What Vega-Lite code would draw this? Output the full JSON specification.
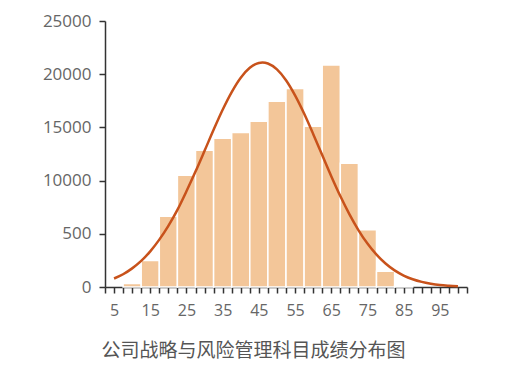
{
  "$schema": "https://vega.github.io/schema/vega-lite/v6.json",
  "width": 362,
  "height": 266,
  "autosize": "none",
  "padding": {"left": 105, "top": 21, "right": 48, "bottom": 96},
  "background": "white",
  "config": {"view": {"stroke": null}},
  "datasets": {
    "bins": [
      {"x": 7.5, "xend": 12.5, "y": 320},
      {"x": 12.5, "xend": 17.5, "y": 2480},
      {"x": 17.5, "xend": 22.5, "y": 6640},
      {"x": 22.5, "xend": 27.5, "y": 10500},
      {"x": 27.5, "xend": 32.5, "y": 12850},
      {"x": 32.5, "xend": 37.5, "y": 13970},
      {"x": 37.5, "xend": 42.5, "y": 14510},
      {"x": 42.5, "xend": 47.5, "y": 15570},
      {"x": 47.5, "xend": 52.5, "y": 17450},
      {"x": 52.5, "xend": 57.5, "y": 18650},
      {"x": 57.5, "xend": 62.5, "y": 15100},
      {"x": 62.5, "xend": 67.5, "y": 20870},
      {"x": 67.5, "xend": 72.5, "y": 11630},
      {"x": 72.5, "xend": 77.5, "y": 5390},
      {"x": 77.5, "xend": 82.5, "y": 1475},
      {"x": 82.5, "xend": 87.5, "y": 150}
    ],
    "curve": [
      {"x": 5, "y": 800}, {"x": 7.5, "y": 1200}, {"x": 10, "y": 1750},
      {"x": 12.5, "y": 2450}, {"x": 15, "y": 3350}, {"x": 17.5, "y": 4450},
      {"x": 20, "y": 5750}, {"x": 22.5, "y": 7250}, {"x": 25, "y": 9000},
      {"x": 27.5, "y": 10850}, {"x": 30, "y": 12800}, {"x": 32.5, "y": 14780},
      {"x": 35, "y": 16660}, {"x": 37.5, "y": 18320}, {"x": 40, "y": 19670},
      {"x": 42.5, "y": 20600}, {"x": 45, "y": 21060}, {"x": 46, "y": 21100},
      {"x": 47.5, "y": 21010}, {"x": 50, "y": 20450}, {"x": 52.5, "y": 19430},
      {"x": 55, "y": 18010}, {"x": 57.5, "y": 16300}, {"x": 60, "y": 14390},
      {"x": 62.5, "y": 12400}, {"x": 65, "y": 10420}, {"x": 67.5, "y": 8550},
      {"x": 70, "y": 6850}, {"x": 72.5, "y": 5350}, {"x": 75, "y": 4080},
      {"x": 77.5, "y": 3040}, {"x": 80, "y": 2210}, {"x": 82.5, "y": 1560},
      {"x": 85, "y": 1080}, {"x": 87.5, "y": 730}, {"x": 90, "y": 480},
      {"x": 92.5, "y": 310}, {"x": 95, "y": 190}, {"x": 97.5, "y": 120},
      {"x": 100, "y": 70}
    ]
  },
  "encoding": {
    "x": {
      "field": "x", "type": "quantitative",
      "scale": {"domain": [2.5, 102.5], "nice": false, "zero": false},
      "axis": {
        "values": [2.5,5,7.5,10,12.5,15,17.5,20,22.5,25,27.5,30,32.5,35,37.5,40,42.5,45,47.5,50,52.5,55,57.5,60,62.5,65,67.5,70,72.5,75,77.5,80,82.5,85,87.5,90,92.5,95,97.5,100,102.5],
        "labelExpr": "(datum.value - 5) % 10 == 0 ? datum.label : ''",
        "grid": false,
        "domainColor": "#333333",
        "domainWidth": 1.5,
        "tickColor": "#333333",
        "tickWidth": 1.5,
        "tickSize": 6,
        "labelFont": "Open Sans",
        "labelFontSize": 16,
        "labelColor": "#666666",
        "labelPadding": 9,
        "labelFlush": false,
        "labelOverlap": false,
        "title": "公司战略与风险管理科目成绩分布图",
        "titleFont": "Noto Sans CJK SC",
        "titleFontSize": 19,
        "titleFontWeight": "normal",
        "titleColor": "#555555",
        "titleX": 148,
        "titleY": 63,
        "titleAlign": "center",
        "titleBaseline": "middle"
      }
    },
    "y": {
      "field": "y", "type": "quantitative",
      "scale": {"domain": [0, 25000], "nice": false},
      "axis": {
        "values": [0, 5000, 10000, 15000, 20000, 25000],
        "labelExpr": "datum.value == 5000 ? '500' : '' + datum.value",
        "grid": false,
        "domainColor": "#333333",
        "domainWidth": 1.5,
        "tickColor": "#333333",
        "tickWidth": 1.5,
        "tickSize": 6,
        "labelFont": "Open Sans",
        "labelFontSize": 17,
        "labelColor": "#666666",
        "labelPadding": 8,
        "title": null
      }
    }
  },
  "layer": [
    {
      "data": {"name": "bins"},
      "mark": {"type": "bar", "color": "#F3C699", "stroke": "white", "strokeWidth": 1.5},
      "encoding": {
        "x2": {"field": "xend"},
        "y2": {"datum": 0}
      }
    },
    {
      "data": {"name": "curve"},
      "mark": {"type": "line", "color": "#C8521B", "strokeWidth": 2.5, "interpolate": "monotone"},
      "encoding": {}
    }
  ]
}
